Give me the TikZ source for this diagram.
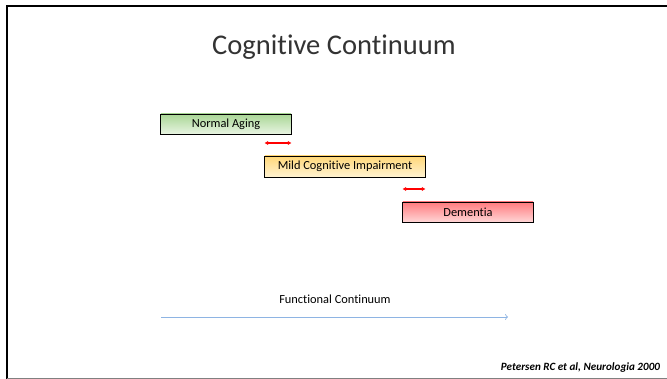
\documentclass[tikz,border=0pt]{standalone}
\usepackage{fontspec}
\setmainfont{Carlito}[Ligatures=NoCommon]
\usetikzlibrary{arrows.meta, positioning}

\definecolor{agetop}{HTML}{A9D695}
\definecolor{agebot}{HTML}{E8F4E2}
\definecolor{mcitop}{HTML}{FFD778}
\definecolor{mcibot}{HTML}{FFF3D2}
\definecolor{demtop}{HTML}{FF7A7E}
\definecolor{dembot}{HTML}{FFD6D6}
\definecolor{axisblue}{HTML}{8EB4E3}

\tikzset{
  stage/.style={draw=black, line width=0.7pt, minimum height=0.5cm, inner sep=0pt, font=\fontsize{8.8}{10}\selectfont},
  overlap/.style={draw=red, line width=0.9pt, arrows={Latex[length=2.5pt,width=3pt]-Latex[length=2.5pt,width=3pt]}},
}

\begin{document}
\begin{tikzpicture}[x=0.025cm, y=-0.025cm]
            \useasboundingbox (0,0) rectangle (667,379);

            % slide frame
            \draw[line width=1.5pt] (7,379) -- (7,6) -- (667,6);
            \draw[gray, line width=0.7pt] (7,378.5) -- (667,378.5);

            \node[font=\fontsize{20.3}{24}\selectfont, text=black!80] (title) at (334,47) {Cognitive Continuum};

            \node[stage, minimum width=3.25cm, top color=agetop, bottom color=agebot] (age) at (226,124) {Normal Aging};
            \node[stage, minimum width=4cm, minimum height=0.525cm, top color=mcitop, bottom color=mcibot] (mci) at (345,166.5) {Mild Cognitive Impairment};
            \node[stage, minimum width=3.25cm, top color=demtop, bottom color=dembot] (dem) at (468,212) {Dementia};

            % overlaps
            \draw[overlap] (mci.west |- 0,143) -- (age.east |- 0,143);
            \draw[overlap] (dem.west |- 0,189) -- (mci.east |- 0,189);

            \node[font=\fontsize{8.8}{10}\selectfont] (func) at (335,299) {Functional Continuum};
            \coordinate (fstart) at (161,317);
            \coordinate (fend) at (508,317);
            \draw[axisblue, line width=0.5pt, arrows={-To[length=2pt]}] (fstart) -- (fend);

            \node[anchor=east, font=\fontsize{7.9}{9}\selectfont\bfseries\itshape] (cite) at (665,368) {Petersen RC et al, Neurologia 2000};
        \end{tikzpicture}
\end{document}
